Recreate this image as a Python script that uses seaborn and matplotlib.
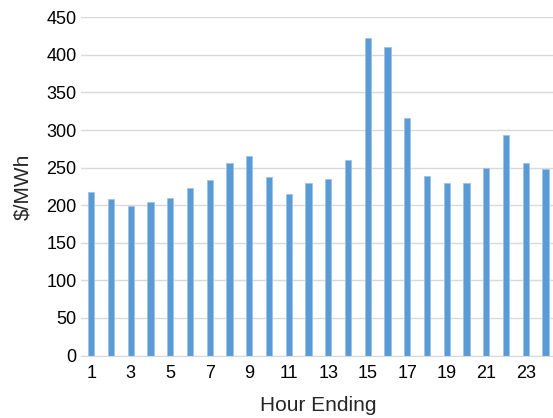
import matplotlib
matplotlib.use('Agg')
import matplotlib.pyplot as plt
import seaborn as sns

# Hourly prices
hours = list(range(1, 25))
prices = [218, 208, 199, 204, 209, 223, 233, 256, 266, 237, 215, 229,
          235, 260, 422, 410, 316, 239, 229, 230, 250, 294, 256, 248]
tick_hours = [h for h in hours if h % 2 == 1]

sns.set_style("white")
plt.rcParams['font.family'] = ['Liberation Sans', 'DejaVu Sans']

fig = plt.figure(figsize=(5.53, 4.18), dpi=100)
ax = fig.add_axes([0.1472, 0.1495, 0.857, 0.809])

sns.barplot(x=[str(h) for h in hours], y=prices, color='#5B9BD5',
            width=0.31, saturation=1, edgecolor='#9DC3E6', linewidth=0.6, ax=ax)

ax.set_ylim(0, 450)
ax.set_yticks(range(0, 451, 50))
ax.set_xlim(-0.5, len(hours) - 0.5)
ax.set_xticks([h - 1 for h in tick_hours])
ax.set_xticklabels([str(h) for h in tick_hours])
ax.yaxis.grid(True, color='#D9D9D9', linewidth=1)
ax.set_axisbelow(True)
for s in ['top', 'right', 'left']:
    ax.spines[s].set_visible(False)
ax.spines['bottom'].set_color('#D9D9D9')
ax.tick_params(axis='both', length=0, labelsize=13, colors='black')
ax.tick_params(axis='x', pad=6.5)
ax.tick_params(axis='y', pad=3.5)
ax.set_xlabel('Hour Ending', fontsize=15, labelpad=10.5)
ax.set_ylabel('$/MWh', fontsize=15, labelpad=10)

plt.savefig('out.png', dpi=100)
